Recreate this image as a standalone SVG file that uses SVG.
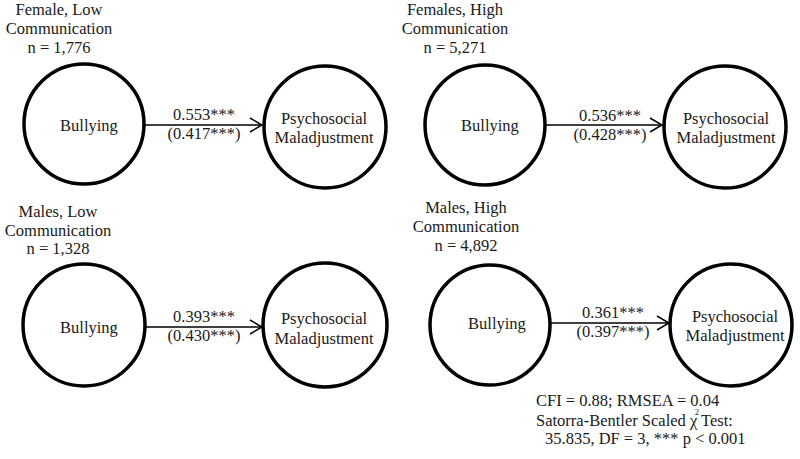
<svg xmlns="http://www.w3.org/2000/svg" width="800" height="459" viewBox="0 0 800 459">
<defs>
<marker id="arr" markerUnits="userSpaceOnUse" markerWidth="14" markerHeight="16" refX="13" refY="8" orient="auto">
<path d="M1,1 L13,8 L1,15" fill="none" stroke="#000" stroke-width="1.5"/>
</marker>
<style>
text{font-family:"Liberation Serif","Times New Roman",serif;font-size:16.5px;fill:#1a1a1a;text-anchor:middle}
.n{fill:#fff;stroke:#000;stroke-width:3.5}
.e{stroke:#000;stroke-width:1.6;fill:none;marker-end:url(#arr)}
.l{text-anchor:start}
</style>
</defs>
<rect width="800" height="459" fill="#fff"/>
<g id="titles">
<text x="59" y="15">Female, Low</text><text x="59" y="34">Communication</text><text x="59" y="53">n = 1,776</text>
<text x="455" y="15">Females, High</text><text x="455" y="34">Communication</text><text x="455" y="53">n = 5,271</text>
<text x="58" y="217">Males, Low</text><text x="58" y="236">Communication</text><text x="58" y="254">n = 1,328</text>
<text x="466" y="213">Males, High</text><text x="466" y="232">Communication</text><text x="466" y="251">n = 4,892</text>
</g>
<g id="connectors">
<line class="e" x1="143" y1="125" x2="262" y2="125"/>
<line class="e" x1="545" y1="125" x2="662" y2="125"/>
<line class="e" x1="143" y1="327" x2="262" y2="327"/>
<line class="e" x1="549" y1="323" x2="669" y2="323"/>
<text x="204" y="120">0.553***</text><text x="204" y="139">(0.417***)</text>
<text x="610" y="121">0.536***</text><text x="610" y="140">(0.428***)</text>
<text x="204" y="322">0.393***</text><text x="204" y="341">(0.430***)</text>
<text x="613" y="318">0.361***</text><text x="613" y="337">(0.397***)</text>
</g>
<g id="b1"><circle class="n" cx="84" cy="124" r="60"/><text x="89" y="131">Bullying</text></g>
<g id="p1"><circle class="n" cx="325" cy="127" r="61"/><text x="324" y="124">Psychosocial</text><text x="324" y="143">Maladjustment</text></g>
<g id="b2"><circle class="n" cx="485" cy="125" r="60"/><text x="490" y="131">Bullying</text></g>
<g id="p2"><circle class="n" cx="725" cy="127" r="61"/><text x="726" y="124">Psychosocial</text><text x="726" y="143">Maladjustment</text></g>
<g id="b3"><circle class="n" cx="84" cy="325" r="61"/><text x="89" y="333">Bullying</text></g>
<g id="p3"><circle class="n" cx="325" cy="325" r="62"/><text x="324" y="324">Psychosocial</text><text x="324" y="344">Maladjustment</text></g>
<g id="b4"><circle class="n" cx="490" cy="325" r="60"/><text x="497" y="329">Bullying</text></g>
<g id="p4"><circle class="n" cx="731" cy="325" r="61"/><text x="735" y="322">Psychosocial</text><text x="735" y="341">Maladjustment</text></g>
<g id="fit">
<text class="l" x="536" y="406">CFI = 0.88; RMSEA = 0.04</text>
<text class="l" x="536" y="426">Satorra-Bentler Scaled <tspan>χ</tspan><tspan font-size="8.5" dy="-11" dx="-2.5">2</tspan><tspan dy="11" dx="2">Test:</tspan></text>
<text class="l" x="545" y="444">35.835, DF = 3, *** p &lt; 0.001</text>
</g>
</svg>
